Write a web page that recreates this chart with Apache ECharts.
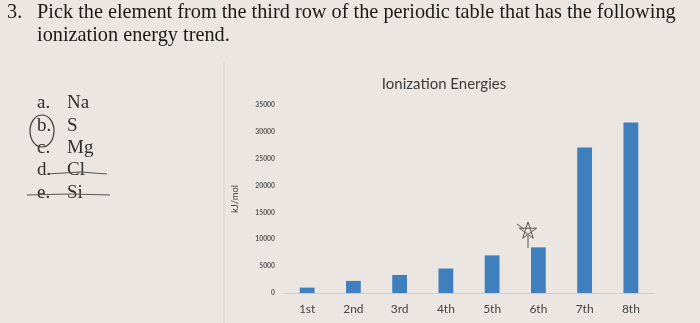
<!DOCTYPE html>
<html>
<head>
<meta charset="utf-8">
<script src="https://cdn.jsdelivr.net/npm/echarts@6/dist/echarts.min.js"></script>
<style>
html,body{margin:0;padding:0;background:#ebe6e2;}
#c{width:700px;height:323px;}
</style>
</head>
<body>
<div id="c"></div>
<script>
// Data
var categories = ['1st', '2nd', '3rd', '4th', '5th', '6th', '7th', '8th'];
var energies = [1000, 2252, 3357, 4556, 7004, 8496, 27107, 31719];
var yMin = 0, yMax = 35000, yStep = 5000;
var chartTitle = 'Ionization Energies';
var yName = 'kJ/mol';
var questionNumber = '3.';
var questionLines = ['Pick the element from the third row of the periodic table that has the following', 'ionization energy trend.'];
var optionLetters = ['a.', 'b.', 'c.', 'd.', 'e.'];
var optionNames = ['Na', 'S', 'Mg', 'Cl', 'Si'];

var chart = echarts.init(document.getElementById('c'));
var qFont = '20.3px "Liberation Serif"';
var oFont = '19px "Liberation Serif"';
var g = [];
g.push({type:'text', left:7, top:3, style:{text:questionNumber, font:qFont, fill:'#1a1a1a'}});
g.push({type:'text', left:37, top:3, style:{text:questionLines[0], font:qFont, fill:'#1a1a1a'}});
g.push({type:'text', left:37, top:26, style:{text:questionLines[1], font:qFont, fill:'#1a1a1a'}});
var oy = [94, 117, 139, 161, 184];
for (var i = 0; i < optionLetters.length; i++) {
  g.push({type:'text', left:37, top:oy[i], style:{text:optionLetters[i], font:oFont, fill:'#2e2e2e'}});
  g.push({type:'text', left:67, top:oy[i], style:{text:optionNames[i], font:oFont, fill:'#2e2e2e'}});
}
// handwritten marks
g.push({type:'ellipse', shape:{cx:42, cy:131, rx:12, ry:16}, style:{fill:'none', stroke:'#3a3a3a', lineWidth:1.2}});
g.push({type:'polyline', shape:{points:[[47,174],[80,172],[107,174]]}, style:{fill:'none', stroke:'#555', lineWidth:1}});
g.push({type:'polyline', shape:{points:[[27,195],[70,194],[110,195]]}, style:{fill:'none', stroke:'#555', lineWidth:1}});
g.push({type:'polyline', shape:{points:[[528,222],[533.3,238.3],[519.4,228.2],[536.6,228.2],[522.7,238.3],[528,222]]}, style:{fill:'none', stroke:'#555', lineWidth:1}});
g.push({type:'line', shape:{x1:517, y1:224, x2:524, y2:229}, style:{stroke:'#555', lineWidth:1}});
g.push({type:'line', shape:{x1:528, y1:236, x2:528, y2:248}, style:{stroke:'#555', lineWidth:1}});
// chart page edge
g.push({type:'line', shape:{x1:224, y1:62, x2:224, y2:323}, style:{stroke:'#dcd6d1', lineWidth:1}});
g.push({type:'text', x:444, y:77, style:{text:chartTitle, font:'15px Lato', fill:'#3a3a3a', textAlign:'center'}});

chart.setOption({
  backgroundColor:'#ebe6e2',
  animation:false,
  graphic:g,
  grid:{left:284, right:46, top:105, bottom:30},
  xAxis:{
    type:'category', data:categories,
    axisLine:{lineStyle:{color:'#d2cdc8'}},
    axisTick:{show:false},
    axisLabel:{color:'#444', fontFamily:'Lato', fontSize:12, margin:10}
  },
  yAxis:{
    type:'value', min:yMin, max:yMax, interval:yStep,
    name:yName, nameLocation:'middle', nameRotate:90, nameGap:44,
    nameTextStyle:{color:'#444', fontFamily:'Lato', fontSize:9.5},
    axisLine:{show:false}, axisTick:{show:false}, splitLine:{show:false},
    axisLabel:{color:'#555', fontFamily:'Lato', fontSize:6.8, fontWeight:'bold', margin:9, formatter:function(v){return String(v);}}
  },
  series:[{type:'bar', data:energies, barWidth:'32%', itemStyle:{color:'#3f7fbd'}}]
});
</script>
</body>
</html>
